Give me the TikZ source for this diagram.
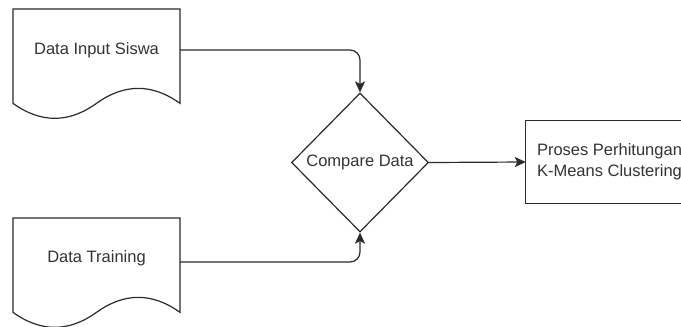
\documentclass[tikz,border=0pt]{standalone}
\usepackage{fontspec}
\setmainfont{Liberation Sans}
\usetikzlibrary{shapes.geometric,arrows.meta}
\definecolor{ink}{HTML}{2B2B2B}
\definecolor{txt}{HTML}{333333}
\tikzset{
  lbl/.style={font=\fontsize{16.5}{20.6}\selectfont, text=txt, inner sep=0pt},
  outline/.style={draw=ink, line width=1.2pt, line join=miter},
  conn/.style={draw=ink, line width=1.2pt, rounded corners=10pt,
    -{Stealth[length=11pt,width=10pt,inset=2.5pt]}},
  docbox/.style={rectangle, minimum width=167pt, minimum height=111pt, inner sep=0pt, draw=none},
  pics/docshape/.style={code={
    \draw[outline] (0,0) -- (167,0) -- (167,94.35)
      .. controls (139.17,74.38) and (111.33,74.38) .. (83.5,94.35)
      .. controls (55.67,114.32) and (27.83,114.32) .. (0,94.35) -- cycle;
  }}
}
\begin{document}
\begin{tikzpicture}[x=1pt,y=-1pt]
\useasboundingbox (0,0) rectangle (681,327);
\fill[white] (0,0) rectangle (681,327);
\coordinate (edge) at (681,0);

% documents
\node[docbox, anchor=north west] (doc1) at (13,9) {};
\pic at (doc1.north west) {docshape};
\node[lbl] (doc1lbl) at (96.5,50) {Data Input Siswa};
\coordinate (doc1out) at (180,50);

\node[docbox, anchor=north west] (doc2) at (13,218) {};
\pic at (doc2.north west) {docshape};
\node[lbl] (doc2lbl) at (96.5,258) {Data Training};
\coordinate (doc2out) at (180,262);

% decision
\node[diamond, outline, lbl, minimum width=137pt, minimum height=139pt, inner sep=0pt, aspect=1]
  (cmp) at (360,162.5) {Compare Data};

% process (its right side runs past the picture's edge)
\node[rectangle, lbl, align=center, minimum width=167pt, minimum height=82pt]
  (proc) at (609.5,162) {Proses Perhitungan\\K-Means Clustering};
\draw[outline] (proc.north west -| edge) -- (proc.north west) -- (proc.south west) -- (proc.south west -| edge);

% connectors
\draw[conn] (doc1out) -| (cmp.north);
\draw[conn] (doc2out) -| (cmp.south);
\draw[conn] (cmp.east) -- (proc.west);
\end{tikzpicture}
\end{document}
